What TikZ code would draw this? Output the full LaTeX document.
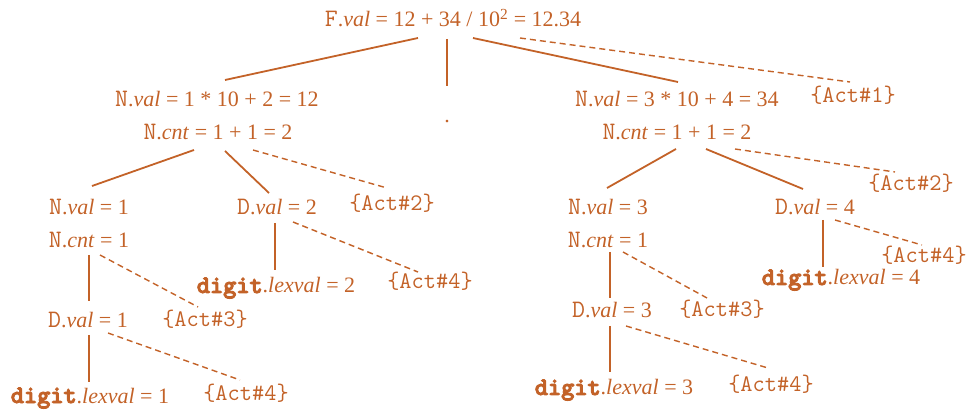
\documentclass[tikz,border=0pt]{standalone}
\usepackage{fontspec}
\setmainfont{Liberation Serif}
\usetikzlibrary{calc}
\definecolor{ink}{RGB}{195,98,40}
\newcommand\cour[1]{{\ttfamily\fontsize{25.1}{26}\selectfont #1}}
\newcommand\lbN{\cour{N}.}
\newcommand\lbD{\cour{D}.}
\newcommand\lbdig{\cour{\bfseries\special{pdf:literal direct 2 Tr 0.9 w}digit\special{pdf:literal direct 0 Tr}}.}
\begin{document}
\begin{tikzpicture}[x=1pt,y=-1pt,
  lbl/.style={anchor=base, inner sep=0pt, text=ink, font=\fontsize{22}{26}\selectfont},
  actlbl/.style={anchor=base, inner sep=0pt, text=ink, font=\ttfamily\fontsize{23.7}{26}\selectfont},
  solidln/.style={draw=ink, line width=1.8pt},
  dashln/.style={draw=ink, line width=1.4pt, dash pattern=on 6pt off 4pt}]
\useasboundingbox (0,0) rectangle (972,411);
% nodes
\node[lbl] (F) at (453,27) {\cour{F}.\textit{val} = 12 + 34 / 10\textsuperscript{2} = 12.34};
\node[lbl] (nv12) at (217,107) {\lbN\textit{val} = 1 * 10 + 2 = 12};
\node[lbl] (nc2L) at (218,140) {\lbN\textit{cnt} = 1 + 1 = 2};
\node[lbl] (dot) at (447,123) {.};
\node[lbl] (nv34) at (677,107) {\lbN\textit{val} = 3 * 10 + 4 = 34};
\node[actlbl] (a1) at (853,103) {\{Act\#1\}};
\node[lbl] (nc2R) at (677,140) {\lbN\textit{cnt} = 1 + 1 = 2};
\node[lbl] (nv1) at (89,215) {\lbN\textit{val} = 1};
\node[lbl] (nc1L) at (89,248) {\lbN\textit{cnt} = 1};
\node[lbl] (dv2) at (277,215) {\lbD\textit{val} = 2};
\node[actlbl] (a2L) at (392,211) {\{Act\#2\}};
\node[lbl] (dig2) at (276,293) {\lbdig\textit{lexval} = 2};
\node[actlbl] (a4M) at (430,289) {\{Act\#4\}};
\node[lbl] (dv1) at (88,328) {\lbD\textit{val} = 1};
\node[actlbl] (a3L) at (205,327) {\{Act\#3\}};
\node[lbl] (dig1) at (90,403) {\lbdig\textit{lexval} = 1};
\node[actlbl] (a4L) at (246,401) {\{Act\#4\}};
\node[lbl] (nv3) at (608,215) {\lbN\textit{val} = 3};
\node[lbl] (nc1R) at (608,248) {\lbN\textit{cnt} = 1};
\node[lbl] (dv4) at (815,215) {\lbD\textit{val} = 4};
\node[actlbl] (a2R) at (911,191) {\{Act\#2\}};
\node[actlbl] (a4RT) at (924,263) {\{Act\#4\}};
\node[lbl] (dig4) at (841,285) {\lbdig\textit{lexval} = 4};
\node[lbl] (dv3) at (612,318) {\lbD\textit{val} = 3};
\node[actlbl] (a3R) at (722,317) {\{Act\#3\}};
\node[lbl] (dig3) at (614,395) {\lbdig\textit{lexval} = 3};
\node[actlbl] (a4RB) at (771,392) {\{Act\#4\}};
% connectors
\draw[solidln] ($(F.base)+(-35,11)$) -- ($(nv12.base)+(8,-27)$);
\draw[solidln] ($(F.base)+(-6,12)$) -- ($(dot.base)+(0,-37)$);
\draw[solidln] ($(F.base)+(20,11)$) -- ($(nv34.base)+(1,-25)$);
\draw[dashln] ($(F.base)+(67,11)$) -- ($(a1.base)+(-3,-21)$);
\draw[solidln] ($(nc2L.base)+(-24,10)$) -- ($(nv1.base)+(3,-29)$);
\draw[solidln] ($(nc2L.base)+(7,11)$) -- ($(dv2.base)+(-8,-22)$);
\draw[dashln] ($(nc2L.base)+(35,10)$) -- ($(a2L.base)+(-5,-23)$);
\draw[solidln] ($(nc1L.base)+(0,7)$) -- ($(dv1.base)+(1,-27)$);
\draw[dashln] ($(nc1L.base)+(11,7)$) -- ($(a3L.base)+(-7,-20)$);
\draw[solidln] ($(dv2.base)+(-2,8)$) -- ($(dig2.base)+(-1,-23)$);
\draw[dashln] ($(dv2.base)+(16,7)$) -- ($(a4M.base)+(-12,-17)$);
\draw[solidln] ($(dv1.base)+(1,7)$) -- ($(dig1.base)+(-1,-21)$);
\draw[dashln] ($(dv1.base)+(20,5)$) -- ($(a4L.base)+(-6,-21)$);
\draw[solidln] ($(nc2R.base)+(-1,9)$) -- ($(nv3.base)+(-1,-27)$);
\draw[solidln] ($(nc2R.base)+(29,9)$) -- ($(dv4.base)+(-12,-26)$);
\draw[dashln] ($(nc2R.base)+(58,9)$) -- ($(a2R.base)+(-16,-19)$);
\draw[solidln] ($(nc1R.base)+(2,4)$) -- ($(dv3.base)+(-2,-20)$);
\draw[dashln] ($(nc1R.base)+(15,4)$) -- ($(a3R.base)+(-15,-19)$);
\draw[solidln] ($(dv4.base)+(8,5)$) -- ($(dig4.base)+(-18,-18)$);
\draw[dashln] ($(dv4.base)+(20,5)$) -- ($(a4RT.base)+(-2,-18)$);
\draw[solidln] ($(dv3.base)+(-2,8)$) -- ($(dig3.base)+(-4,-23)$);
\draw[dashln] ($(dv3.base)+(14,8)$) -- ($(a4RB.base)+(-3,-24)$);
\end{tikzpicture}
\end{document}
